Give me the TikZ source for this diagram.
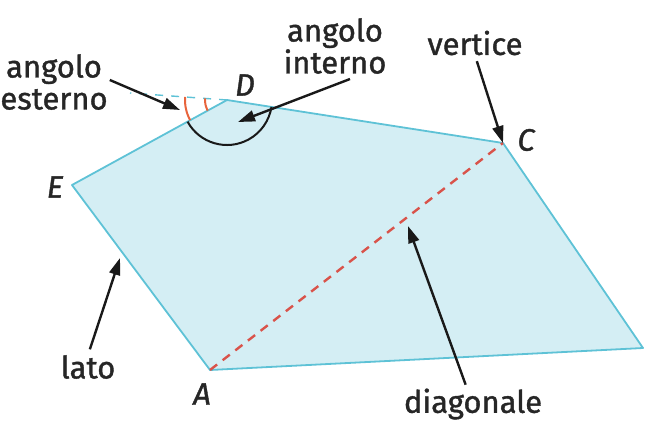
\documentclass[tikz,border=0pt]{standalone}
\usepackage{fontspec}
\setmainfont{Fira Sans}[FakeBold=1.2]
\usetikzlibrary{arrows.meta,angles,calc}
\definecolor{poly}{HTML}{D4EEF4}
\definecolor{edge}{HTML}{5EC2D6}
\definecolor{diag}{HTML}{D9534A}
\definecolor{ext}{HTML}{E8643C}

\begin{document}
\begin{tikzpicture}[x=1pt,y=-1pt,font=\fontsize{31}{32}\selectfont,
  lbl/.style={align=center,inner sep=0pt,text=black!85},
  vtx/.style={inner sep=0pt,text=black!85,font=\fontsize{31}{32}\selectfont\itshape},
  arr/.style={-{Triangle[length=17pt,width=11pt]},line width=2.4pt,black!90}]
\useasboundingbox (0,0) rectangle (645,421);
% vertici
\coordinate (A) at (210,370);
\coordinate (B) at (643,348);
\coordinate (C) at (503,143);
\coordinate (D) at (227,100);
\coordinate (E) at (72,185);
\coordinate (X) at (130,93);
\filldraw[fill=poly,draw=edge,line width=1.8pt,line join=round] (A)--(B)--(C)--(D)--(E)--cycle;
\draw[diag,line width=2.4pt,dash pattern=on 9pt off 7pt] (A)--(C);
\draw[edge,line width=1.4pt,dash pattern=on 8pt off 8pt] (D)--(X);
% angoli
\pic[draw=ext,line width=2pt,angle radius=42pt] {angle=X--D--E};
\pic[draw=ext,line width=2pt,angle radius=22pt] {angle=X--D--E};
\pic[draw=black!90,line width=2pt,angle radius=45pt] {angle=E--D--C};
% nomi
\node[vtx] (nA) at (202,394) {A};
\node[vtx] (nC) at (526,140) {C};
\node[vtx] (nD) at (245,85) {D};
\node[vtx] (nE) at (55,187) {E};
% etichette
\node[lbl] (extL) at (54,82) {angolo\\esterno};
\node[lbl] (intL) at (335,46) {angolo\\interno};
\node[lbl] (verL) at (475,43) {vertice};
\node[lbl] (latoL) at (88,367) {lato};
\node[lbl] (diagL) at (473,404) {diagonale};
\coordinate (extT) at (180,110);
\coordinate (intT) at (238,122);
\coordinate (latoT) at (120,258);
\coordinate (diagT) at (408,226);
\draw[arr] ([xshift=2pt,yshift=2pt]extL.east) -- (extT);
\draw[arr] ([xshift=15pt,yshift=-5pt]intL.south) -- (intT);
\draw[arr,shorten <=6pt] (verL.south) -- (C);
\draw[arr,shorten <=6pt] (latoL.north) -- (latoT);
\draw[arr,shorten <=4pt] ([xshift=-6pt]diagL.north) -- (diagT);
\end{tikzpicture}
\end{document}
